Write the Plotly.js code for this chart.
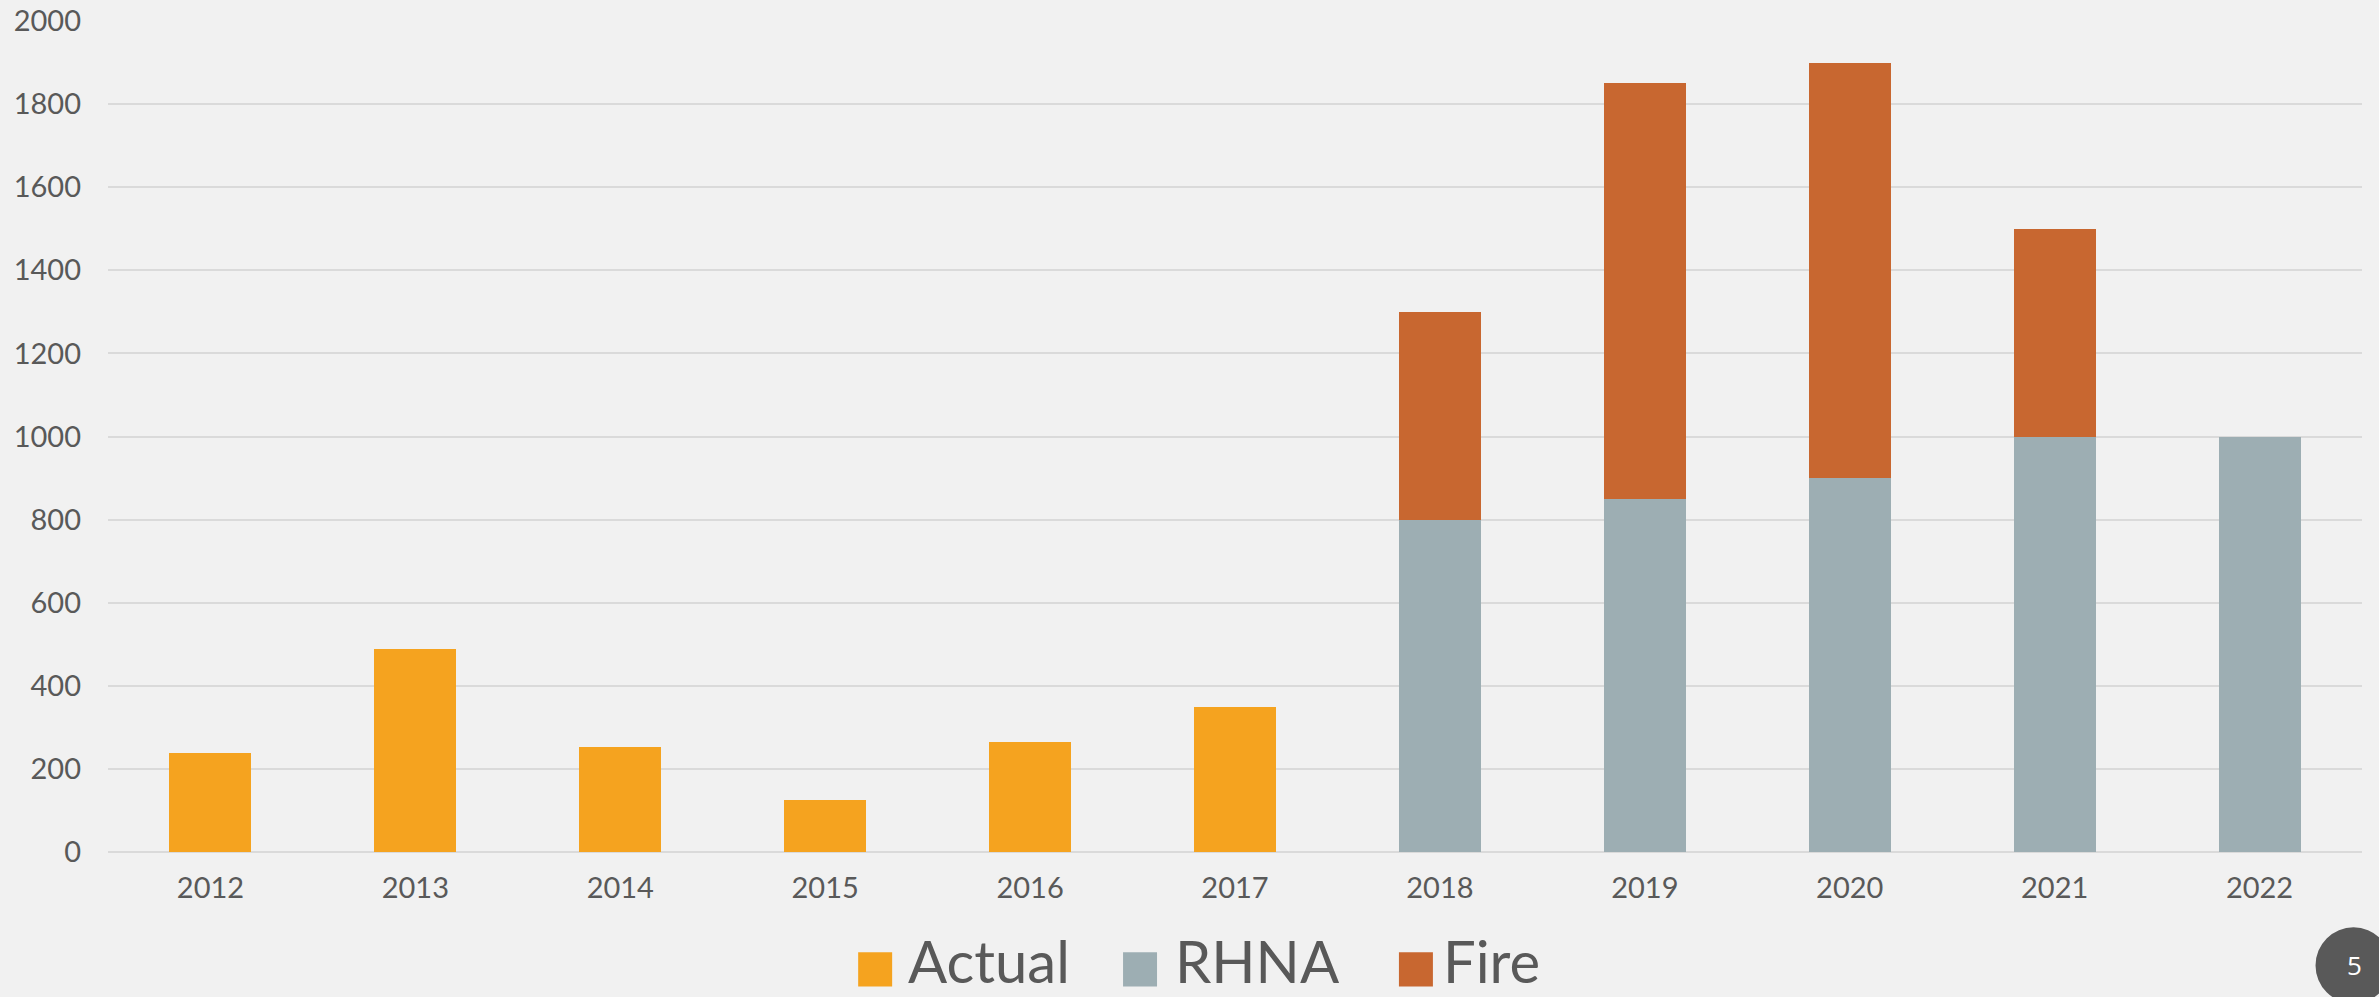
<!DOCTYPE html>
<html>
<head>
<meta charset="utf-8">
<script src="https://cdn.plot.ly/plotly-3.0.1.min.js"></script>
<style>
html,body{margin:0;padding:0;background:#f1f1f1;}
#chart{width:2379px;height:997px;}
</style>
</head>
<body>
<div id="chart"></div>
<script>
// Data
const years = ["2012","2013","2014","2015","2016","2017","2018","2019","2020","2021","2022"];
const actualValues = [238, 488, 252, 126, 264, 350, null, null, null, null, null];
const rhnaValues   = [null, null, null, null, null, null, 800, 850, 900, 1000, 1000];
const fireValues   = [null, null, null, null, null, null, 500, 1000, 1000, 500, null];
const seriesNames = ["Actual", "RHNA", "Fire"];
const seriesColors = ["#F5A31F", "#9DAEB3", "#C86730"];
const yTickValues = [0, 200, 400, 600, 800, 1000, 1200, 1400, 1600, 1800, 2000];
const pageNumber = "5";

const W = 2379, H = 997;
const margin = {l: 107.5, r: 16.5, t: 21.3, b: 145.3};
const plotW = W - margin.l - margin.r;
const plotH = H - margin.t - margin.b;
const px2x = p => (p - margin.l) / plotW;
const px2y = p => (H - margin.b - p) / plotH;

const textColor = "#595959";
const fontFam = "Lato, 'Open Sans', sans-serif";

const traces = [actualValues, rhnaValues, fireValues].map((vals, i) => ({
  type: "bar",
  name: seriesNames[i],
  x: years,
  y: vals,
  marker: {color: seriesColors[i], line: {width: 0}},
  showlegend: false,
  hoverinfo: "x+y+name"
}));

// custom legend (large swatches as in the reference)
const legendSwatchX = [858, 1123, 1399];
const legendTextX = [906, 1173, 1441];
const shapes = [];
const annotations = [];
seriesNames.forEach((n, i) => {
  shapes.push({
    type: "rect", xref: "paper", yref: "paper",
    x0: px2x(legendSwatchX[i]), x1: px2x(legendSwatchX[i] + 34),
    y0: px2y(986), y1: px2y(952),
    fillcolor: seriesColors[i], line: {width: 0}
  });
  annotations.push({
    xref: "paper", yref: "paper",
    x: px2x(legendTextX[i]), y: px2y(960),
    xanchor: "left", yanchor: "middle",
    text: n, showarrow: false,
    font: {family: fontFam, size: 58, color: textColor}
  });
});
// page number badge
shapes.push({
  type: "circle", xref: "paper", yref: "paper",
  x0: px2x(2316), x1: px2x(2392), y0: px2y(1003), y1: px2y(927),
  fillcolor: "#595959", line: {width: 0}
});
annotations.push({
  xref: "paper", yref: "paper", x: px2x(2355), y: px2y(965),
  xanchor: "center", yanchor: "middle", text: pageNumber, showarrow: false,
  font: {family: "'Open Sans', sans-serif", size: 26, color: "#ffffff"}
});

const layout = {
  width: W, height: H,
  margin: margin,
  paper_bgcolor: "#f1f1f1",
  plot_bgcolor: "#f1f1f1",
  barmode: "stack",
  bargap: 0.6,
  showlegend: false,
  font: {family: fontFam, color: textColor},
  xaxis: {
    type: "category",
    showgrid: false, zeroline: false, showline: false, ticks: "",
    ticklabelstandoff: 16,
    tickfont: {family: fontFam, size: 29, color: textColor}
  },
  yaxis: {
    range: [0, 2000],
    tickvals: yTickValues,
    ticktext: yTickValues.map(String),
    showgrid: true, gridcolor: "#dadada", gridwidth: 2,
    zeroline: true, zerolinecolor: "#dadada", zerolinewidth: 2,
    showline: false, ticks: "",
    ticklabelstandoff: 26,
    tickfont: {family: fontFam, size: 29, color: textColor}
  },
  shapes: shapes,
  annotations: annotations
};

Plotly.newPlot("chart", traces, layout, {displayModeBar: false, staticPlot: true});
</script>
</body>
</html>
